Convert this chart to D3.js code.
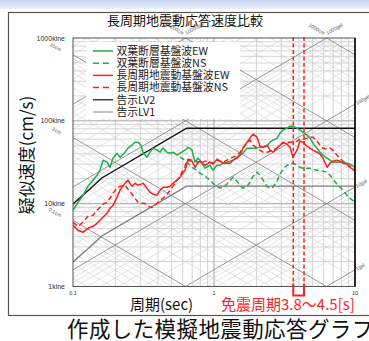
<!DOCTYPE html>
<html><head><meta charset="utf-8">
<script src="https://cdn.jsdelivr.net/npm/d3@7"></script>
<style>html,body{margin:0;padding:0;background:#fff;overflow:hidden}svg{display:block}</style>
</head><body>
<svg id="c" width="369" height="341"></svg>
<script>
// ---- data (period [s] / pseudo velocity [kine]) ----
const periods = [0.1,0.1085,0.1177,0.1277,0.1386,0.148,0.1554,0.1633,0.1742,0.183,
0.1921,0.2051,0.2154,0.2337,0.2455,0.262,0.2753,0.2891,0.3036,0.3137,
0.3348,0.3517,0.3693,0.3941,0.414,0.4347,0.4642,0.4875,0.512,0.5465,
0.574,0.6229,0.6541,0.6982,0.7333,0.7701,0.7955,0.8636,0.9368,0.9838,
1.05,1.103,1.158,1.237,1.299,1.364,1.456,1.529,1.606,1.714,
1.8,1.891,2.018,2.12,2.226,2.377,2.496,2.621,2.798,2.938,
3.086,3.294,3.459,3.633,3.879,4.073,4.278,4.566,4.796,5.036,
5.377,5.646,5.93,6.33,6.649,6.982,7.454,7.828,8.221,8.777,
9.215,10];
const futabaEW = [8.32,10.4,12.6,16.2,19.2,22.0,25.3,33.5,31.7,27.5,
35.4,40.7,36.4,41.8,46.8,50.8,55.3,55.3,50.8,41.8,
36.4,41.8,46.8,44.2,41.8,46.8,41.8,40.7,41.8,38.5,
40.7,44.2,48.1,44.2,31.7,35.4,33.5,26.8,29.1,25.3,
29.1,29.1,30.8,31.7,32.6,33.5,36.4,38.5,40.7,46.8,
46.8,46.8,46.8,48.1,48.1,49.4,55.3,58.4,61.8,71.0,
77.2,81.6,86.3,86.3,81.6,77.2,73.0,67.2,61.8,53.7,
46.8,41.8,38.5,35.4,33.5,31.7,31.7,31.7,31.7,30.8,
30.0,27.5];
const futabaNS = [null,null,null,null,null,null,null,null,null,null,
null,null,null,null,null,null,null,null,null,null,
null,null,null,null,null,null,null,null,null,null,
36.4,33.5,30.8,27.5,26.1,24.7,23.3,21.4,19.2,17.6,
16.2,15.4,15.8,17.2,19.2,20.9,18.7,16.7,15.4,16.2,
18.1,21.4,24.0,22.0,19.2,16.2,15.4,15.8,18.7,22.7,
26.1,29.1,30.0,30.8,29.1,27.5,26.8,26.8,26.8,26.1,
25.3,25.3,24.7,24.0,22.0,19.7,17.2,15.8,14.5,12.6,
11.6,10.4];
const longEW = [5.48,4.77,4.51,5.04,5.33,5.79,6.30,6.85,7.66,8.80,
9.56,11.9,14.5,17.6,19.2,16.2,17.6,16.7,17.2,17.6,
15.4,13.7,13.0,12.6,14.5,15.8,15.8,16.2,17.6,19.2,
20.9,25.3,33.5,32.6,27.5,31.7,32.6,29.1,31.7,30.0,
34.4,32.6,30.8,30.8,30.8,33.5,35.4,38.5,46.8,55.3,
61.8,69.1,63.5,49.4,48.1,50.8,44.2,41.8,46.8,50.8,
55.3,52.3,48.1,36.4,44.2,56.8,55.3,49.4,46.8,44.2,
41.8,39.6,35.4,27.5,30.8,32.6,33.5,32.6,30.8,30.0,
27.5,24.7];
const longNS = [5.96,5.33,5.96,7.04,7.24,8.32,9.05,9.83,10.4,11.6,
13.4,15.4,16.2,16.7,14.9,13.0,11.6,10.4,10.1,10.1,
9.83,9.05,9.05,10.1,11.0,11.6,13.0,14.5,16.2,19.2,
21.4,28.3,34.4,33.5,32.6,31.7,30.8,32.6,31.7,30.8,
33.5,32.6,31.7,33.5,35.4,36.4,38.5,41.8,46.8,53.7,
58.4,50.8,46.8,44.2,41.8,41.8,43.0,44.2,46.8,50.8,
53.7,55.3,55.3,55.3,56.8,60.1,60.1,61.8,63.5,63.5,
56.8,50.8,46.8,45.5,46.8,44.2,38.5,35.4,32.6,30.0,
28.3,26.1];
const lv2Periods = [0.1,0.13,0.16,0.64,10];
const lv2Values  = [9.9,14.7,20.4,81.5,81.5];
const lv1Values  = [1.98,2.94,4.08,16.3,16.3];
const isolationRange = [3.65,4.35];
const seriesNames = ["双葉断層基盤波EW","双葉断層基盤波NS","長周期地震動基盤波EW","長周期地震動基盤波NS","告示LV2","告示LV1"];
const velTicks = [1,10,100,1000];
const velTickLabels = ["1kine","10kine","100kine","1000kine"];
const perTicks = [0.1,1,10];
const perTickLabels = ["0.1","1","10"];
const dispLabelVals = [10,1,0.1];
const dispLabelText = ["10cm","1cm","0.1cm"];
const accRightVals = [100,10,1];
const accRightText = ["100gal","10gal","1gal"];

// ---- drawing ----
const svg = d3.select("#c");
const CJK = "'Noto Sans CJK JP','Noto Sans',sans-serif";
const LAT = "'Liberation Sans',Arial,sans-serif";
const GREEN = "#1fae48", RED = "#ff1e1e";

const defs = svg.append("defs");
const g0 = defs.append("linearGradient").attr("id","bg").attr("x1",0).attr("y1",0).attr("x2",0).attr("y2",1);
g0.append("stop").attr("offset","0%").attr("stop-color","#c9d5ef");
g0.append("stop").attr("offset","100%").attr("stop-color","#eaeff9");
svg.append("rect").attr("width",369).attr("height",341).attr("fill","#fff");
svg.append("rect").attr("width",369).attr("height",9).attr("fill","url(#bg)");
svg.append("rect").attr("x",8.5).attr("y",12.5).attr("width",380).attr("height",303)
  .attr("fill","#fff").attr("stroke","#555").attr("stroke-width",1.2);

const x = d3.scaleLog().domain([0.1,10]).range([73,355]);
const y = d3.scaleLog().domain([1,1000]).range([286.5,38]);
const [X0,X1] = x.range(), [Y1,Y0] = y.range();

defs.append("clipPath").attr("id","pc").append("rect")
  .attr("x",X0).attr("y",Y0).attr("width",X1-X0).attr("height",Y1-Y0);

const grid = svg.append("g").attr("clip-path","url(#pc)");
const mult = d3.range(1,10);
[0.1,1].forEach(dec => mult.forEach(k => {
  const t = k*dec; if (t<=0.1 || t>=10) return;
  grid.append("line").attr("x1",x(t)).attr("x2",x(t)).attr("y1",Y0).attr("y2",Y1)
    .attr("stroke", k===1 ? "#999" : "#c4c4c4").attr("stroke-width", k===1?0.9:0.7);
}));
[1,10,100].forEach(dec => mult.forEach(k => {
  const v = k*dec; if (v<=1 || v>=1000) return;
  grid.append("line").attr("x1",X0).attr("x2",X1).attr("y1",y(v)).attr("y2",y(v))
    .attr("stroke", k===1 ? "#999" : "#c4c4c4").attr("stroke-width", k===1?0.9:0.7);
}));
const TW = 2*Math.PI;
const diag = [];
for (let n=-4;n<=4;n++) mult.forEach(k => {
  const val = k*Math.pow(10,n);
  diag.push({type:"D", val, major:k===1});
  diag.push({type:"A", val, major:k===1});
});
diag.sort((a,b)=>a.major-b.major);
diag.forEach(d => {
  const f = d.type==="D" ? (t => TW*d.val/t) : (t => d.val*t/TW);
  grid.append("line").attr("x1",x(0.1)).attr("y1",y(f(0.1))).attr("x2",x(10)).attr("y2",y(f(10)))
    .attr("stroke", d.major ? "#8a8a8a" : "#d2d2d2").attr("stroke-width", d.major?0.9:0.6);
});

svg.append("rect").attr("x",86).attr("y",42).attr("width",154).attr("height",77).attr("fill","#fff");

const curves = svg.append("g").attr("clip-path","url(#pc)");
const line = d3.line().defined(d=>d[1]!=null).x(d=>x(d[0])).y(d=>y(d[1]));
curves.append("path").datum(lv2Periods.map((t,i)=>[t,lv1Values[i]])).attr("d",line)
  .attr("fill","none").attr("stroke","#7a7a7a").attr("stroke-width",1.3);
curves.append("path").datum(lv2Periods.map((t,i)=>[t,lv2Values[i]])).attr("d",line)
  .attr("fill","none").attr("stroke","#111").attr("stroke-width",1.4);

const series = [
  {vals:futabaNS, col:GREEN, dash:"5,3"},
  {vals:longNS, col:RED, dash:"5,3"},
  {vals:futabaEW, col:GREEN, dash:null},
  {vals:longEW, col:RED, dash:null},
];
series.forEach(s => {
  curves.append("path").datum(periods.map((t,i)=>[t,s.vals[i]])).attr("d",line)
    .attr("fill","none").attr("stroke",s.col).attr("stroke-width",1.5)
    .attr("stroke-dasharray",s.dash).attr("stroke-linejoin","round");
});

svg.append("rect").attr("x",X0).attr("y",Y0).attr("width",X1-X0).attr("height",Y1-Y0)
  .attr("fill","none").attr("stroke","#555").attr("stroke-width",1);
svg.append("line").attr("x1",X1).attr("x2",X1).attr("y1",Y0).attr("y2",Y1).attr("stroke","#000").attr("stroke-width",1.5);

isolationRange.forEach(t => {
  svg.append("line").attr("x1",x(t)).attr("x2",x(t)).attr("y1",Y0-1).attr("y2",Y1)
    .attr("stroke",RED).attr("stroke-width",1.5).attr("stroke-dasharray","4,2.5");
});
svg.append("path").attr("d",`M${x(isolationRange[0])},${Y1-3}V${Y1+9}H${x(isolationRange[1])}V${Y1-3}`)
  .attr("fill","none").attr("stroke",RED).attr("stroke-width",2);

const legItems = [
  {col:GREEN,dash:null,w:1.5},{col:GREEN,dash:"6,4",w:1.5},
  {col:RED,dash:null,w:1.5},{col:RED,dash:"6,4",w:1.5},
  {col:"#111",dash:null,w:1.2},{col:"#999",dash:null,w:1.2}];
seriesNames.forEach((nm,i) => {
  const yy = 51 + i*12.2;
  svg.append("line").attr("x1",93).attr("x2",113).attr("y1",yy).attr("y2",yy)
    .attr("stroke",legItems[i].col).attr("stroke-width",legItems[i].w).attr("stroke-dasharray",legItems[i].dash);
  svg.append("text").attr("x",116.5).attr("y",yy+3.8).text(nm)
    .attr("font-family",CJK).attr("font-size",10.8).attr("fill","#222");
});

velTicks.forEach((v,i) => svg.append("text").attr("x",65).attr("y",y(v)+2.5).attr("text-anchor","end")
  .text(velTickLabels[i]).attr("font-family",LAT).attr("font-size",7).attr("fill","#333"));
perTicks.forEach((t,i) => svg.append("text").attr("x",x(t)).attr("y",Y1+8).attr("text-anchor","middle")
  .text(perTickLabels[i]).attr("font-family",LAT).attr("font-size",5.5).attr("fill","#333"));
const ang = Math.atan((y(1)-y(10))/(x(1)-x(0.1)))*180/Math.PI;
dispLabelVals.forEach((dv,i) => {
  const yy = y(TW*dv/0.1);
  svg.append("text").attr("transform",`translate(60,${yy-3}) rotate(${ang})`).attr("text-anchor","end")
    .text(dispLabelText[i]).attr("font-family",LAT).attr("font-size",5).attr("fill","#555");
});
accRightVals.forEach((av,i) => {
  const yy = y(av*10/TW);
  svg.append("text").attr("transform",`translate(${X1+2},${yy+1}) rotate(${-ang})`)
    .text(accRightText[i]).attr("font-family",LAT).attr("font-size",5).attr("fill","#555");
});
[[100,10000,"100cm","10000gal"],[1000,1000,"1000cm","1000gal"]].forEach(p => {
  const xt = x(TW*p[0]/1000);
  svg.append("text").attr("transform",`translate(${xt-3},${Y0-3}) rotate(${ang})`).attr("text-anchor","end")
    .text(p[2]).attr("font-family",LAT).attr("font-size",5).attr("fill","#555");
  svg.append("text").attr("transform",`translate(${xt+1},${Y0-3}) rotate(${-ang})`)
    .text(p[3]).attr("font-family",LAT).attr("font-size",5).attr("fill","#555");
});

svg.append("text").attr("x",107).attr("y",25).text("長周期地震動応答速度比較")
  .attr("font-family",CJK).attr("font-size",13).attr("fill","#111");
svg.append("text").attr("transform","translate(33,155) rotate(-90)").attr("text-anchor","middle")
  .text("疑似速度(cm/s)").attr("font-family",CJK).attr("font-size",17).attr("fill","#111");
svg.append("text").attr("x",130).attr("y",310).text("周期(sec)")
  .attr("font-family",CJK).attr("font-size",15).attr("fill","#111");
svg.append("text").attr("x",221).attr("y",310).text("免震周期3.8～4.5[s]")
  .attr("font-family",CJK).attr("font-size",15).attr("fill",RED);
svg.append("text").attr("x",67).attr("y",337).text("作成した模擬地震動応答グラフ")
  .attr("font-family",CJK).attr("font-size",21.5).attr("letter-spacing",0.4).attr("fill","#111");
</script>
</body></html>
